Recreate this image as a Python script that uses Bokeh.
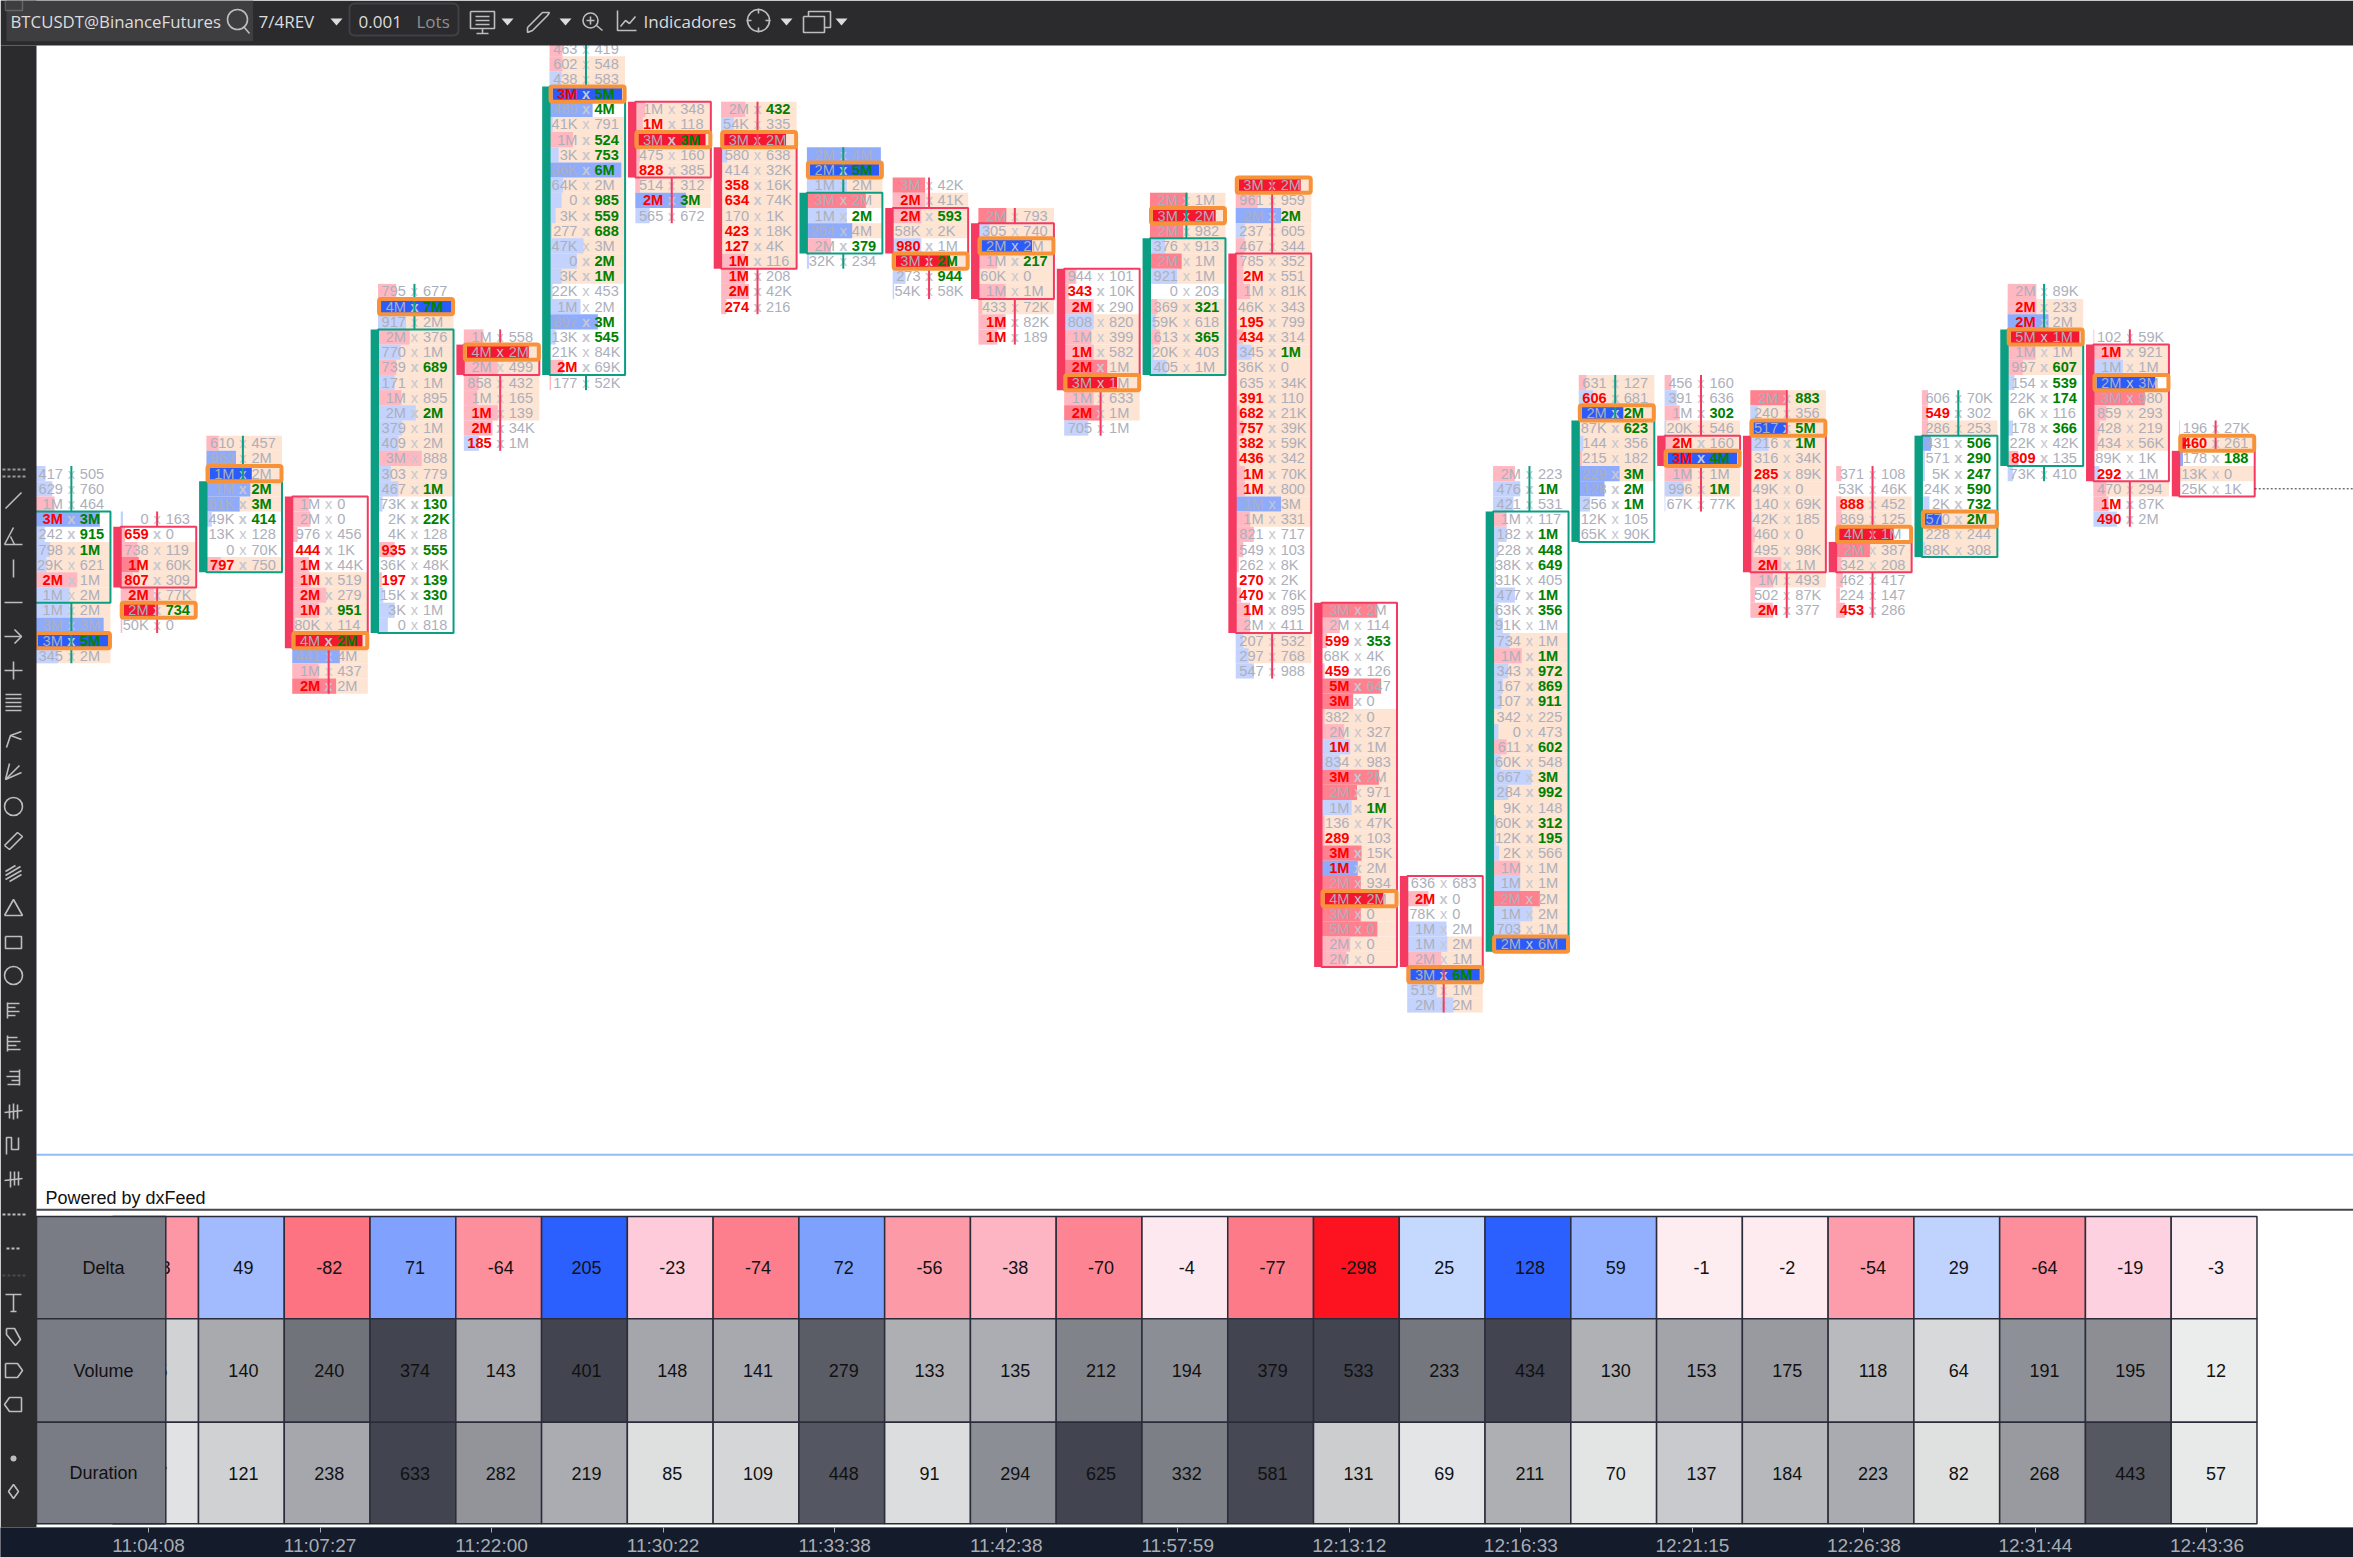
import numpy as np
from bokeh.plotting import figure
from bokeh.models import Range1d, LinearAxis, FixedTicker, ColumnDataSource, BoxAnnotation
from bokeh.core.properties import value
from bokeh.embed import file_html
from bokeh.resources import INLINE

# ---- footprint rows: "left right barcolour barpct peach"; * = bold; X/Y = POC blue/red
rows_m1 = ["417 505 b 14 0","629 760 b 23 0","1M 464 r 26 0","*3M *3M B 86 0","242 *915 b 13 0","798 *1M b 20 1","29K 621 b 15 1",
           "*2M 1M r 56 1","1M 2M b 46 1","1M 2M b 46 1","3M 3M B 91 1","3M *5M X 97 1","345 2M b 31 1"]
rows_00 = ["0 163 b 3 0","*659 0 r 6 0","738 119 r 22 1","*1M 60K R 24 1","*807 309 r 16 1","*2M 77K r 44 1","2M *734 Y 46 1","50K 0 r 2 0"]
rows_01 = ["610 457 r 16 1","963 2M B 39 1","1M 2M X 60 1","1M *2M B 58 1","61K *3M B 44 1","49K *414 b 7 0","13K 128 n 0 0","0 70K n 0 0","*797 750 r 19 1"]
rows_02 = ["1M 0 r 22 0","2M 0 r 24 0","976 456 r 7 0","*444 1K n 0 0","*1M 44K r 22 0","*1M 519 r 24 1","*2M 279 r 45 1","*1M *951 r 35 1",
           "80K 114 r 4 1","4M *2M Y 93 1","441 4M B 63 1","1M 437 r 35 1","*2M 2M R 58 1"]
rows_03 = ["795 677 r 24 0","4M *7M X 98 1","917 2M b 37 1","2M 376 r 42 1","770 1M b 30 1","739 *689 r 24 1","171 1M b 22 1","1M 895 r 31 1",
           "2M *2M b 50 1","379 1M b 32 1","409 2M b 27 1","3M 888 r 58 1","303 779 b 17 1","467 *1M b 27 1","73K *130 b 6 0","2K *22K n 0 0",
           "4K 128 n 0 0","*935 *555 r 22 0","36K 48K n 0 0","*197 *139 r 5 0","15K *330 b 7 0","3K 1M b 22 0","0 818 b 13 0"]
rows_04 = ["1M 558 r 26 0","4M 2M Y 86 1","2M 499 r 45 1","858 432 r 20 1","1M 165 r 18 1","*1M 139 r 45 1","*2M 34K r 38 0","*185 1M b 20 0"]
rows_05 = ["463 419 r 17 0","602 548 r 17 1","438 583 b 16 1","*3M *5M X 96 1","489 *4M B 57 0","41K 791 b 4 1","1M *524 r 31 1","3K *753 b 12 1",
           "36K *6M B 95 1","64K 2M b 18 1","0 *985 b 16 1","3K *559 b 8 1","277 *688 b 3 1","47K 3M b 45 1","0 *2M b 36 1","3K *1M b 16 1",
           "22K 453 b 4 0","1M 2M b 41 0","897 *3M B 64 0","13K *545 b 8 0","21K 84K n 0 0","*2M 69K r 18 0","177 52K r 2 0"]
rows_06 = ["1M 348 r 13 1","*1M 118 r 10 1","3M *3M Y 93 1","475 160 r 6 1","*828 385 r 5 1","514 312 r 6 1","*2M *3M B 67 1","565 672 b 19 0"]
rows_07 = ["2M *432 r 32 1","54K 335 b 17 1","3M 2M Y 86 1","580 638 b 8 1","414 32K n 0 1","*358 16K n 0 1","*634 74K n 0 1","170 1K n 0 1",
           "*423 18K n 0 1","*127 4K n 0 1","*1M 116 r 32 1","*1M 208 r 32 0","*2M 42K r 37 0","*274 216 r 7 0"]
rows_08 = ["2M 4M B 98 0","2M *5M X 96 1","1M 2M b 53 1","3M 2M R 78 1","1M *2M b 53 0","254 4M B 60 1","2M *379 r 32 0","32K 234 b 3 0"]
rows_09 = ["3M 42K R 43 0","*2M 41K r 43 1","*2M *593 r 38 1","58K 2K n 0 1","*980 1M b 38 0","3M *2M Y 76 1","273 *944 b 17 0","54K 58K b 2 0"]
rows_10 = ["2M 793 R 37 1","305 740 b 15 1","2M 2M X 71 1","1M *217 r 25 1","60K 0 n 0 1","1M 1M r 36 1","433 72K r 5 1","*1M 82K r 36 0","*1M 189 r 25 0"]
rows_11 = ["944 101 r 16 0","*343 10K r 6 0","*2M 290 r 39 0","808 820 b 39 1","1M 399 r 36 1","*1M 582 r 39 1","*2M 1M R 57 1","3M 1M Y 70 1",
           "1M 633 r 39 1","*2M 1M R 48 1","705 1M b 32 0"]
rows_12 = ["2M 1M R 50 1","3M 2M Y 87 1","2M 982 R 44 1","376 913 b 20 1","2M 1M R 42 1","921 1M b 36 1","0 203 n 0 0","369 *321 r 10 1",
           "59K 618 b 8 1","613 *365 r 13 1","20K 403 b 5 1","405 1M b 22 1"]
rows_13 = ["3M 2M Y 86 1","961 959 r 29 1","2M *2M B 60 1","237 605 b 12 1","467 344 r 12 1","785 352 r 10 1","*2M 551 r 10 1","1M 81K r 19 1",
           "46K 343 n 0 1","*195 799 n 0 1","*434 314 r 10 1","345 *1M b 21 1","36K 0 n 0 1","635 34K r 2 1","*391 110 r 2 1","*682 21K r 5 1",
           "*757 39K r 10 1","*382 59K r 4 1","*436 342 r 5 1","*1M 70K r 12 1","*1M 800 r 12 1","1M 3M B 60 1","1M 331 r 19 1","821 717 r 24 0",
           "549 103 r 10 0","262 8K r 4 0","*270 2K n 0 0","*470 76K r 7 0","*1M 895 r 19 0","2M 411 r 19 0","207 532 b 10 1","297 768 b 17 1","547 988 b 24 0"]
rows_14 = ["3M 2M R 74 0","2M 114 r 24 0","*599 *353 r 7 0","68K 4K n 0 0","*459 126 r 4 0","*5M 647 R 79 0","*3M 0 R 42 0","382 0 r 4 1","2M 327 r 30 1",
           "*1M 1M b 38 1","834 983 b 24 1","*3M 2M R 76 1","2M 971 R 47 1","1M *1M b 40 1","136 47K r 4 1","*289 103 r 4 1","*3M 15K R 53 1",
           "*1M 2M B 48 1","2M 934 R 52 1","4M 2M Y 82 1","3M 0 R 52 1","5M 0 R 74 1","2M 0 r 38 1","2M 0 r 33 1"]
rows_15 = ["636 683 n 0 0","*2M 0 r 28 0","78K 0 n 0 0","1M 2M b 52 0","1M 2M b 53 1","2M 1M r 45 1","3M *6M X 96 1","519 1M b 39 1","2M 2M b 61 1"]
rows_16 = ["2M 223 r 29 0","476 *1M b 36 0","421 531 b 27 0","1M 117 r 18 0","182 *1M b 18 0","228 *448 b 7 0","38K *649 b 4 0","31K 405 b 4 0",
           "477 *1M b 29 0","63K *356 b 7 0","91K 1M b 13 0","734 1M b 22 1","1M *1M r 38 1","343 *972 b 20 1","167 *869 b 13 1","107 *911 b 11 1",
           "342 225 n 0 1","0 473 b 7 1","611 *602 r 18 1","60K 548 b 10 1","667 *3M b 51 1","284 *992 b 20 1","9K 148 n 0 1","60K *312 b 4 1",
           "12K *195 b 4 1","2K 566 b 8 1","1M 1M r 36 1","1M 1M b 36 1","2M 2M R 62 1","1M 2M b 52 1","703 1M b 36 1","2M 6M X 97 1"]
rows_17 = ["631 127 r 10 1","*606 681 b 19 1","2M *2M X 59 1","87K *623 b 1 1","144 356 b 6 1","215 182 r 4 1","229 *3M B 54 1","128 *2M B 34 0",
           "256 *1M b 15 0","12K 105 n 0 0","65K 90K n 0 0"]
rows_18 = ["456 160 r 9 0","391 636 b 16 0","1M *302 r 20 0","20K 546 b 2 1","*2M 160 r 20 1","*3M *4M X 96 1","1M 1M r 36 1","996 *1M b 25 1","67K 77K b 1 0"]
rows_19 = ["2M *883 R 47 1","240 356 b 10 1","517 *5M X 48 1","216 *1M b 24 1","316 34K n 0 1","*285 89K n 0 1","49K 0 n 0 1","140 69K n 0 1",
           "42K 185 b 3 1","460 0 r 6 1","495 98K r 4 1","*2M 1M r 41 1","1M 493 r 30 1","502 87K r 6 0","*2M 377 r 30 0"]
rows_20 = ["371 108 r 7 0","53K 46K n 0 0","*888 452 r 7 1","869 125 r 7 1","4M 1M Y 76 0","2M 387 R 45 1","342 208 r 7 1","462 417 r 9 0","224 147 r 5 0","*453 286 r 12 0"]
rows_21 = ["606 70K r 8 0","*549 302 r 8 0","286 253 r 8 1","431 *506 B 12 0","571 *290 b 4 0","5K *247 b 4 0","24K *590 b 1 0","2K *732 b 10 0",
           "570 *2M X 26 1","228 244 b 2 1","88K 308 b 4 1"]
rows_22 = ["2M 89K r 38 0","*2M 233 r 38 1","*2M 2M B 54 1","5M 1M Y 95 1","1M 1M r 37 1","997 *607 r 20 1","154 *539 b 9 0","22K *174 n 0 0","6K 116 n 0 0",
           "178 *366 b 7 0","22K 42K n 0 0","*809 135 r 14 0","73K 410 b 7 0"]
rows_23 = ["102 59K r 1 0","*1M 921 r 35 1","1M 1M b 39 1","2M 3M X 82 0","3M 980 R 68 1","859 293 r 17 1","428 219 r 8 1","434 56K r 6 1","89K 1K n 0 0",
           "*292 1M b 8 0","470 294 r 17 1","*1M 87K r 20 0","*490 2M b 31 0"]
rows_24 = ["196 27K r 1 0","*460 261 Y 9 1","178 *188 B 5 0","13K 0 n 0 1","25K 1K n 0 0"]

candle_rows = [rows_m1, rows_00, rows_01, rows_02, rows_03, rows_04, rows_05, rows_06, rows_07, rows_08, rows_09, rows_10, rows_11,
               rows_12, rows_13, rows_14, rows_15, rows_16, rows_17, rows_18, rows_19, rows_20, rows_21, rows_22, rows_23, rows_24]
first_row  = [19,22,17,21,7,10,-9,-5,-5,-2,0,2,6,1,0,28,46,19,13,13,14,19,14,7,10,16]
body_first = [22,23,20,21,10,11,-6,-5,-2,1,2,3,6,4,5,28,46,22,16,17,17,24,17,10,11,18]
body_last  = [27,26,25,30,29,12,12,-1,5,4,4,7,13,12,29,51,51,50,23,18,25,25,24,18,19,20]
is_up      = [1,0,1,0,1,0,1,0,0,1,0,0,0,1,0,0,0,1,1,0,0,0,1,1,0,0]

delta_values    = [-58,49,-82,71,-64,205,-23,-74,72,-56,-38,-70,-4,-77,-298,25,128,59,-1,-2,-54,29,-64,-19,-3]
volume_values   = [75,140,240,374,143,401,148,141,279,133,135,212,194,379,533,233,434,130,153,175,118,64,191,195,12]
duration_values = [77,121,238,633,282,219,85,109,448,91,294,625,332,581,131,69,211,70,137,184,223,82,268,443,57]
table_labels    = ["Delta","Volume","Duration"]
time_labels     = ["11:04:08","11:07:27","11:22:00","11:30:22","11:33:38","11:42:38","11:57:59","12:13:12","12:16:33","12:21:15","12:26:38","12:31:44","12:43:36"]

# ---- styling
W, H, CHROME_H = 2353, 1557, 30
FRAME_H = H - CHROME_H
SLOT, K0 = 85.77, 112.23
ROW, R0 = 15.18, 184.7
GREEN, RED, ORANGE = "#0b9e82", "#f43a60", "#f79238"
PEACH = "#fde4d3"
BAR_COL = {"r":"#ffb8c2","R":"#ff808e","b":"#c3d3fd","B":"#8fabfc","X":"#2b5cf9","Y":"#f5172f"}
GREY, XGREY = "#adafbb", "#c6c7cf"
DARK, STRIP = "#2b2b2e", "#141b2a"
ICON = "#bdbdbf"
SANS = value("Liberation Sans")
UI = value("Open Sans")
px = lambda d: d / SLOT
BAR_L, BAR_W = px(8.0), px(75.5)
WICK = px(44.4)

x0, x1 = -K0/SLOT, (W-K0)/SLOT
p = figure(width=W, height=H, frame_width=W, frame_height=FRAME_H, output_backend="svg", toolbar_location=None,
           x_range=Range1d(x0, x1), y_range=Range1d((FRAME_H-R0)/ROW, -R0/ROW),
           x_axis_location=None, y_axis_location=None, min_border_left=0, min_border_right=0, min_border_top=0,
           min_border_bottom=CHROME_H, border_fill_color=STRIP, outline_line_color=None, background_fill_color="white")
p.grid.visible = False
p.extra_x_ranges = {"px": Range1d(0, W), "time": Range1d(x0-0.417, x1-0.417)}
p.extra_y_ranges = {"py": Range1d(FRAME_H, 0)}
PXR = dict(x_range_name="px", y_range_name="py")

# ---- parse footprint
bg, bars, pocs, bodies, thick, wicks = [], [], [], [], [], []
txt = {k: dict(x=[], y=[], text=[]) for k in ("ln","lb","rn","rb","xn","xb")}
for idx, rows in enumerate(candle_rows):
    k = idx - 1
    top = first_row[idx]
    for i, s in enumerate(rows):
        r = top + i
        l, rt, c, w, pe = s.split()
        w = float(w)
        if pe == "1":
            bg.append((k+BAR_L, k+BAR_L+BAR_W, r-.5, r+.5))
        if c in "rRbB":
            bars.append((k+BAR_L, k+BAR_L+BAR_W*w/100, r-.5, r+.5, BAR_COL[c]))
        elif c in "XY":
            bars.append((k+BAR_L+px(3), k+BAR_L+BAR_W*w/100, r-.42, r+.42, BAR_COL[c]))
            pocs.append((k+BAR_L+px(1), k+BAR_L+px(75), r-.5, r+.5))
        cx = k + WICK
        lb, rb = l.startswith("*"), rt.startswith("*")
        for key, tx, off in (("lb" if lb else "ln", l.lstrip("*"), -8.5/SLOT), ("rb" if rb else "rn", rt.lstrip("*"), 8.5/SLOT)):
            txt[key]["x"].append(cx+off); txt[key]["y"].append(r); txt[key]["text"].append(tx)
        xk = "xb" if (lb or rb) else "xn"
        txt[xk]["x"].append(cx); txt[xk]["y"].append(r); txt[xk]["text"].append("x")
    last = top + len(rows) - 1
    f, b = body_first[idx], body_last[idx]
    col = GREEN if is_up[idx] else RED
    bodies.append((k+BAR_L, k+BAR_L+BAR_W, f-.5, b+.5, col))
    thick.append((k+px(0.6), k+BAR_L, f-.5, b+.5, col))
    if top < f:
        wicks.append((k+WICK, top-.5, f-.5, col))
    if last > b:
        wicks.append((k+WICK, b+.5, last+.5, col))

def quads(rows, **kw):
    a = list(zip(*rows))
    d = dict(left=a[0], right=a[1], top=a[2], bottom=a[3])
    if len(a) > 4:
        d["c"] = a[4]
    return p.quad(source=ColumnDataSource(d), **kw)

quads(bg, fill_color=PEACH, line_color=None)
quads(bars, fill_color="c", line_color=None)
text_style = dict(text_font=SANS, text_font_size="14.6px", text_baseline="middle")
p.text(source=ColumnDataSource(txt["ln"]), text_align="right", text_color=GREY, **text_style)
p.text(source=ColumnDataSource(txt["rn"]), text_align="left", text_color=GREY, **text_style)
p.text(source=ColumnDataSource(txt["lb"]), text_align="right", text_color="#ff0000", text_font_style="bold", **text_style)
p.text(source=ColumnDataSource(txt["rb"]), text_align="left", text_color="#008000", text_font_style="bold", **text_style)
p.text(source=ColumnDataSource(txt["xn"]), text_align="center", text_color=XGREY, **text_style)
p.text(source=ColumnDataSource(txt["xb"]), text_align="center", text_color=XGREY, text_font_style="bold", **text_style)
wa = list(zip(*wicks))
p.segment(x0=wa[0], x1=wa[0], y0=wa[1], y1=wa[2], line_color=list(wa[3]), line_width=2)
quads(thick, fill_color="c", line_color=None)
quads(bodies, fill_alpha=0, line_color="c", line_width=2)
quads(pocs, fill_alpha=0, line_color=ORANGE, line_width=4, border_radius=2)

# price line from the last candle
last_price_row = 20
p.line([24+BAR_L+BAR_W, x1], [last_price_row, last_price_row], line_color="#333333", line_width=1, line_dash="2 2")

# ---- separators
p.segment(x0=[36,36], x1=[W,W], y0=[1154.3,1209.3], y1=[1154.3,1209.3], line_color=["#8fbcf5","#45474f"], line_width=2, **PXR)
p.text(x=[45], y=[1207], text=["Powered by dxFeed"], text_font=SANS, text_font_size="18px", text_color="#111111", text_baseline="bottom", **PXR)

# ---- table
def delta_color(v):
    a = abs(v)
    if v < 0:
        g = max(18, 238 - 1.5*a)
        return "#%02x%02x%02x" % (253, int(g), int(min(g+14, 240)))
    r = max(44, 235 - 1.5*a)
    return "#%02x%02x%02x" % (int(r), int(r*0.78+62), 254)
def grey_ramp(v, xs, ys):
    g = np.interp(v, xs, ys)
    return "#%02x%02x%02x" % (int(g), int(g+2), int(g + 14 - 12*(g-66)/170))
def vol_color(v):
    return grey_ramp(v, [12,64,118,140,175,195,240,279,350], [235,215,184,168,152,140,113,90,66])
def dur_color(v):
    return grey_ramp(v, [57,85,121,184,238,282,332,443,581,633], [232,222,207,182,165,146,125,85,70,66])

row_edges = [1216, 1318.3, 1421.7, 1523.3]
series = [(delta_values, delta_color), (volume_values, vol_color), (duration_values, dur_color)]
for j, (vals, fn) in enumerate(series):
    ks = list(range(len(vals)))
    p.quad(left=ks, right=[k+1 for k in ks], top=[row_edges[j]]*len(ks), bottom=[row_edges[j+1]]*len(ks),
           fill_color=[fn(v) for v in vals], line_color="#2a2d39", line_width=1.5, y_range_name="py")
    p.text(x=[k+0.5+px(2) for k in ks], y=[(row_edges[j]+row_edges[j+1])/2]*len(ks), text=[str(v) for v in vals],
           text_font=SANS, text_font_size="18px", text_color="#111111", text_align="center", text_baseline="middle", y_range_name="py")
p.quad(left=[36]*3, right=[165.3]*3, top=row_edges[:3], bottom=row_edges[1:], fill_color="#797b85", line_color="#2a2d39", line_width=1.5, **PXR)
p.text(x=[103]*3, y=[(row_edges[j]+row_edges[j+1])/2 for j in range(3)], text=table_labels, text_font=SANS, text_font_size="18px",
       text_color="#111111", text_align="center", text_baseline="middle", **PXR)

# ---- application chrome
p.quad(left=[0,0], right=[W,36], top=[0,45], bottom=[45,FRAME_H], fill_color=DARK, line_color=None, **PXR)
p.quad(left=[6], right=[252.6], top=[0], bottom=[40.7], fill_color="#3e3e41", line_color=None, **PXR)
p.quad(left=[349], right=[458], top=[3], bottom=[35], fill_color=DARK, line_color="#414145", line_width=2, border_radius=5, **PXR)
ui = dict(text_font=UI, text_baseline="middle", **PXR)
p.text(x=[10], y=[21], text=["BTCUSDT@BinanceFutures"], text_font_size="16.8px", text_color="#dcdcdc", **ui)
p.text(x=[258], y=[21], text=["7/4REV"], text_font_size="17px", text_color="#dcdcdc", **ui)
p.text(x=[358], y=[21], text=["0.001"], text_font_size="17px", text_color="#dcdcdc", **ui)
p.text(x=[416], y=[21], text=["Lots"], text_font_size="17px", text_color="#8f8f8f", **ui)
p.text(x=[643], y=[21], text=["Indicadores"], text_font_size="17px", text_color="#dcdcdc", **ui)

# carets
car_x = [336, 507, 565, 786, 841]
p.patches(xs=[[c-6, c+6, c] for c in car_x], ys=[[18, 18, 25]]*len(car_x), fill_color="#dcdcdc", line_color=None, **PXR)
# toolbar icons
tb = [
    ([470,494,494,470,470],[11,11,28,28,11]), ([482,482],[28,33]), ([476,488],[33,33]), ([475,489],[16,16]), ([475,489],[20,20]), ([475,489],[24,24]),
    ([527,542,549,547,532,527,527],[27,12,12,15,30,32,27]), ([243,249],[26,33]),
    ([596,602],[25,30]), ([590,590],[16,24]), ([586,594],[20,20]),
    ([617,617,636],[10,30,30]), ([620,625,629,635],[26,20,23,16]),
    ([758,758],[8,13]), ([758,758],[27,32]), ([746,751],[20,20]), ([765,770],[20,20]),
    ([803,824,824,803,803],[16,16,32,32,16]), ([808,808,830,830,824],[16,11,11,27,27]),
]
p.multi_line(xs=[t[0] for t in tb], ys=[t[1] for t in tb], line_color=ICON, line_width=1.6, **PXR)
p.scatter(x=[237,590,758], y=[19,20,20], size=[20,15,22], marker="circle", fill_alpha=0, line_color=ICON, line_width=1.6, **PXR)

# side toolbar icons: (centre y, polylines relative to centre)
side = [
    (500, [[(-8,8),(8,-8)]]),
    (535, [[(-9,9),(9,9)],[(-9,9),(0,-8)],[(1,9),(-3,1)]]),
    (568, [[(0,-9),(0,9)]]),
    (602, [[(-9,0),(9,0)]]),
    (636, [[(-9,0),(8,0)],[(1,-7),(8,0),(1,7)]]),
    (670, [[(-9,0),(9,0)],[(0,-9),(0,9)]]),
    (703, [[(-8,-9),(8,-9)],[(-8,-5),(8,-5)],[(-8,-1),(8,-1)],[(-8,3),(8,3)],[(-8,7),(8,7)]]),
    (738, [[(-7,9),(-3,-3),(8,-7)],[(-3,-3),(8,1)]]),
    (771, [[(-8,8),(-4,-8)],[(-8,8),(8,1)],[(-8,8),(6,-6)]]),
    (840, [[(-9,5),(4,-8),(9,-4),(-4,9),(-9,5)]]),
    (873, [[(-8,-2),(2,-8)],[(-8,2),(7,-7)],[(-8,6),(8,-3)],[(-4,8),(8,1)]]),
    (907, [[(-9,8),(0,-8),(9,8),(-9,8)]]),
    (942, [[(-8,-6),(8,-6),(8,6),(-8,6),(-8,-6)]]),
    (1010,[[(-6,-8),(-6,8)],[(-6,-7),(6,-7)],[(-6,-3),(2,-3)],[(-6,1),(6,1)],[(-6,5),(2,5)]]),
    (1043,[[(-6,-8),(-6,8)],[(-6,-6),(4,-6)],[(-6,-2),(7,-2)],[(-6,2),(3,2)],[(-6,6),(7,6)]]),
    (1077,[[(6,-8),(6,8)],[(-4,-6),(6,-6)],[(-7,-1),(6,-1)],[(-2,3),(6,3)],[(-6,7),(6,7)]]),
    (1111,[[(-9,1),(9,-1)],[(-4,-7),(-4,7)],[(0,-8),(0,8)],[(4,-7),(4,7)]]),
    (1145,[[(-7,9),(-7,-8),(-2,-8),(-2,4),(5,4),(5,-8)]]),
    (1179,[[(-9,1),(9,-1)],[(-3,-8),(-3,8)],[(1,-8),(1,6)],[(5,-8),(5,6)]]),
    (1302,[[(-8,-8),(8,-8)],[(0,-8),(0,9)],[(-3,9),(3,9)]]),
    (1336,[[(-7,-8),(1,-8),(7,3),(2,9),(-7,-2),(-7,-8)]]),
    (1370,[[(-8,-7),(4,-7),(9,0),(4,7),(-8,7),(-8,-7)]]),
    (1404,[[(8,-7),(-4,-7),(-9,0),(-4,7),(8,7),(8,-7)]]),
    (1491,[[(0,-7),(5,0),(0,7),(-5,0),(0,-7)]]),
]
SIDE_X = 13
sx, sy = [], []
for cy, lines in side:
    for ln in lines:
        sx.append([SIDE_X+a for a, _ in ln]); sy.append([cy+b for _, b in ln])
p.multi_line(xs=sx, ys=sy, line_color=ICON, line_width=1.6, **PXR)
p.scatter(x=[SIDE_X,SIDE_X], y=[806,975], size=[18,18], marker="circle", fill_alpha=0, line_color=ICON, line_width=1.6, **PXR)
p.scatter(x=[SIDE_X], y=[1458], size=[6], marker="circle", fill_color=ICON, line_color=None, **PXR)
p.multi_line(xs=[[2,27],[2,27],[2,27],[6,20],[2,27]], ys=[[469,469],[476,476],[1214,1214],[1248,1248],[1275,1275]],
             line_color=["#9a9a9c","#9a9a9c",ICON,ICON,"#4a4a4d"], line_width=2, line_dash="3 2", **PXR)

# ---- time axis
time_ticks = list(range(0, 25, 2))
ax = LinearAxis(x_range_name="time", ticker=FixedTicker(ticks=time_ticks), major_label_overrides=dict(zip(time_ticks, time_labels)),
                axis_line_color=None, major_tick_line_color="#a9acb3", major_tick_in=0, major_tick_out=5, minor_tick_line_color=None,
                major_label_text_font="Liberation Sans", major_label_text_font_size="19px", major_label_text_color="#a9acb3",
                major_label_standoff=2, background_fill_color=STRIP)
p.add_layout(ax, "below")
p.add_layout(BoxAnnotation(left=0, right=36, top=FRAME_H, bottom=H, left_units="screen", right_units="screen", top_units="screen",
                           bottom_units="screen", fill_color=DARK, fill_alpha=1, line_color=None))
p.add_layout(BoxAnnotation(left=5, right=22, top=1517, bottom=1536, left_units="screen", right_units="screen", top_units="screen",
                           bottom_units="screen", fill_alpha=0, line_color=ICON, line_width=1.6))

open("out.html", "w").write(file_html(p, INLINE))
